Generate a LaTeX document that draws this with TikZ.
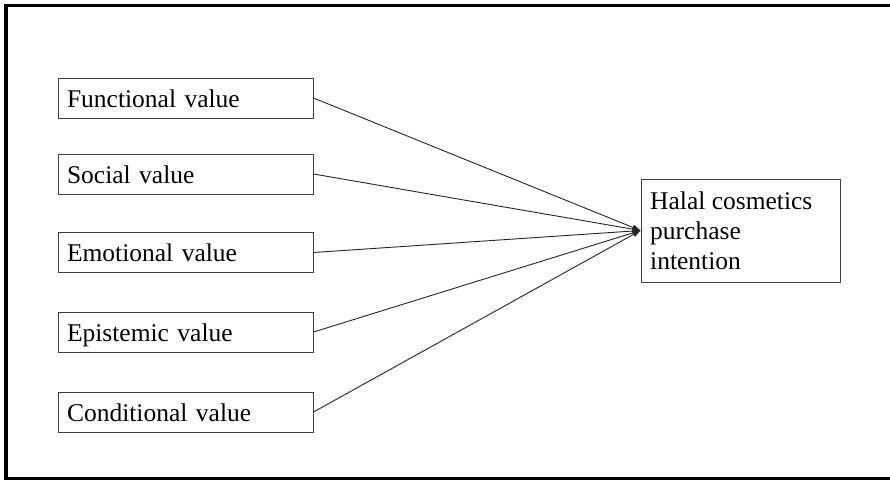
\documentclass[tikz,border=0pt]{standalone}
\usepackage{fontspec}
\setmainfont{Liberation Serif}
\usetikzlibrary{arrows.meta}
\begin{document}
\begin{tikzpicture}[x=1pt,y=-1pt,
  valbox/.style={draw=black!75, line width=1pt, rectangle, minimum width=255pt, minimum height=40pt,
    text width=237pt, inner xsep=9pt, inner ysep=0pt, text height=29pt, text depth=11pt, align=left,
    font=\fontsize{25.5}{30}\selectfont},
  link/.style={draw=black!85, line width=0.9pt, -{Triangle[length=8pt,width=5.5pt]}}]
\useasboundingbox (0,0) rectangle (890,480);
\clip (0,0) rectangle (890,480);
\fill[white] (0,0) rectangle (890,480);
\draw[line width=3.5pt, black] (900,5.5) -- (6,5.5) -- (6,478.5) -- (900,478.5);
\node[valbox] (f) at (185.5,98) {Functional value};
\node[valbox] (s) at (185.5,174) {Social value};
\node[valbox] (e) at (185.5,252.5) {Emotional value};
\node[valbox] (p) at (185.5,332) {Epistemic value};
\node[valbox] (c) at (185.5,412) {Conditional value};
\node[draw=black!75, line width=1pt, rectangle, minimum width=199pt, minimum height=103pt, inner sep=0pt] (h) at (740.5,230.5) {};
\node[anchor=base west, inner sep=0pt, font=\fontsize{25.5}{30}\selectfont] (ht) at (650,209)
  {\parbox[t]{185pt}{\raggedright Halal cosmetics\\purchase\\intention}};
\foreach \n in {f,s,e,p,c} \draw[link] (\n.east) -- (h.west);
\end{tikzpicture}
\end{document}
